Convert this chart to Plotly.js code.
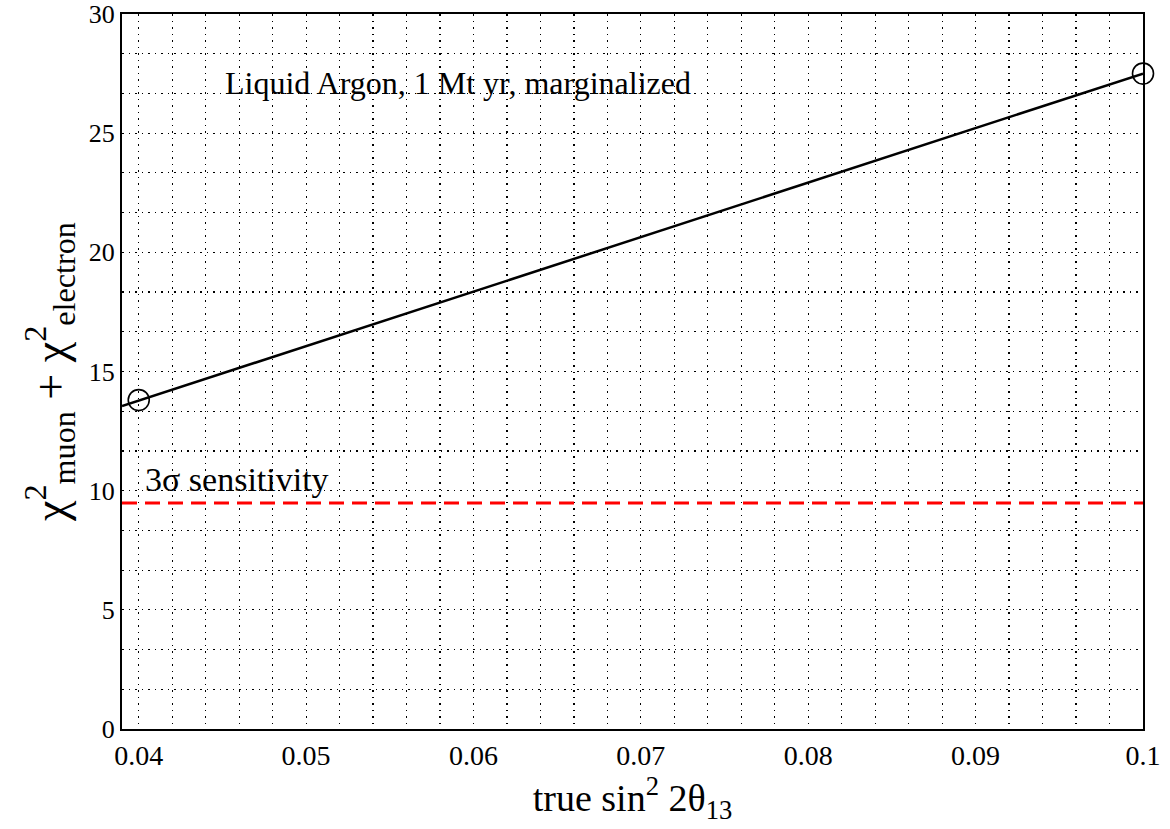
<!DOCTYPE html>
<html>
<head>
<meta charset="utf-8">
<script src="https://cdn.plot.ly/plotly-3.0.1.min.js"></script>
<style>html,body{margin:0;padding:0;background:#fff;}#chart{width:1170px;height:829px;}</style>
</head>
<body>
<div id="chart"></div>
<script>
// Data
const lineX = [0.039, 0.1];
const lineY = [13.55, 27.5];
const pointX = [0.04, 0.1];
const pointY = [13.8, 27.5];
const sigmaLevel = 9.48;
const sigmaX = [0.039, 0.1];
const xRange = [0.039, 0.1];
const yRange = [0, 30];
const xTicks = [0.04, 0.05, 0.06, 0.07, 0.08, 0.09, 0.1];
const xTickText = ['0.04', '0.05', '0.06', '0.07', '0.08', '0.09', '0.1'];
const yTicks = [0, 5, 10, 15, 20, 25, 30];
const yTickText = ['0', '5', '10', '15', '20', '25', '30'];

const serif = '"Liberation Serif", "Times New Roman", serif';
const gridDash = '1.5px,5px';

const traces = [
  {x: sigmaX, y: sigmaX.map(() => sigmaLevel), mode: 'lines',
   line: {color: '#ff0000', width: 3, dash: '15px,8px'}, hoverinfo: 'skip'},
  {x: lineX, y: lineY, mode: 'lines', line: {color: '#000', width: 2.5}, hoverinfo: 'skip'},
  {x: pointX, y: pointY, mode: 'markers', cliponaxis: false,
   marker: {symbol: 'circle-open', size: 21, color: '#000', line: {width: 1.6, color: '#000'}}}
];

const layout = {
  width: 1170, height: 829,
  margin: {l: 122, r: 27, t: 14, b: 100},
  paper_bgcolor: '#fff', plot_bgcolor: '#fff',
  showlegend: false,
  font: {family: serif, color: '#000', size: 27},
  xaxis: {
    range: xRange, tickvals: xTicks, ticktext: xTickText,
    showline: true, mirror: true, linecolor: '#000', linewidth: 2,
    showgrid: true, gridcolor: '#000', gridwidth: 1.2, griddash: gridDash,
    zeroline: false, ticks: '', ticklabeloverflow: 'allow',
    tickfont: {family: serif, size: 28},
    minor: {dtick: 0.002, tick0: 0.04, showgrid: true, gridcolor: '#000', gridwidth: 1.2, griddash: gridDash, ticks: ''},
    title: {text: 'true sin<sup>2</sup> 2θ<sub>13</sub>', font: {family: serif, size: 38}, standoff: 6}
  },
  yaxis: {
    range: yRange, tickvals: yTicks, ticktext: yTickText,
    showline: true, mirror: true, linecolor: '#000', linewidth: 2,
    showgrid: true, gridcolor: '#000', gridwidth: 1.2, griddash: gridDash,
    zeroline: false, ticks: '', ticklabeloverflow: 'allow',
    tickfont: {family: serif, size: 26},
    minor: {dtick: 5/3, tick0: 0, showgrid: true, gridcolor: '#000', gridwidth: 1.2, griddash: gridDash, ticks: ''},
    title: {text: 'χ<sup>2</sup><sub>muon</sub> + χ<sup>2</sup><sub>electron</sub>', font: {family: serif, size: 46}, standoff: 8}
  },
  annotations: [
    {x: 0.04503, y: 27.1, xref: 'x', yref: 'y', xanchor: 'left', yanchor: 'middle',
     text: 'Liquid Argon, 1 Mt yr, marginalized', showarrow: false, font: {family: serif, size: 32}},
    {x: 0.04025, y: 10.45, xref: 'x', yref: 'y', xanchor: 'left', yanchor: 'middle',
     text: '3σ sensitivity', showarrow: false, font: {family: serif, size: 34}}
  ]
};

Plotly.newPlot('chart', traces, layout, {displayModeBar: false, staticPlot: true});
</script>
</body>
</html>
